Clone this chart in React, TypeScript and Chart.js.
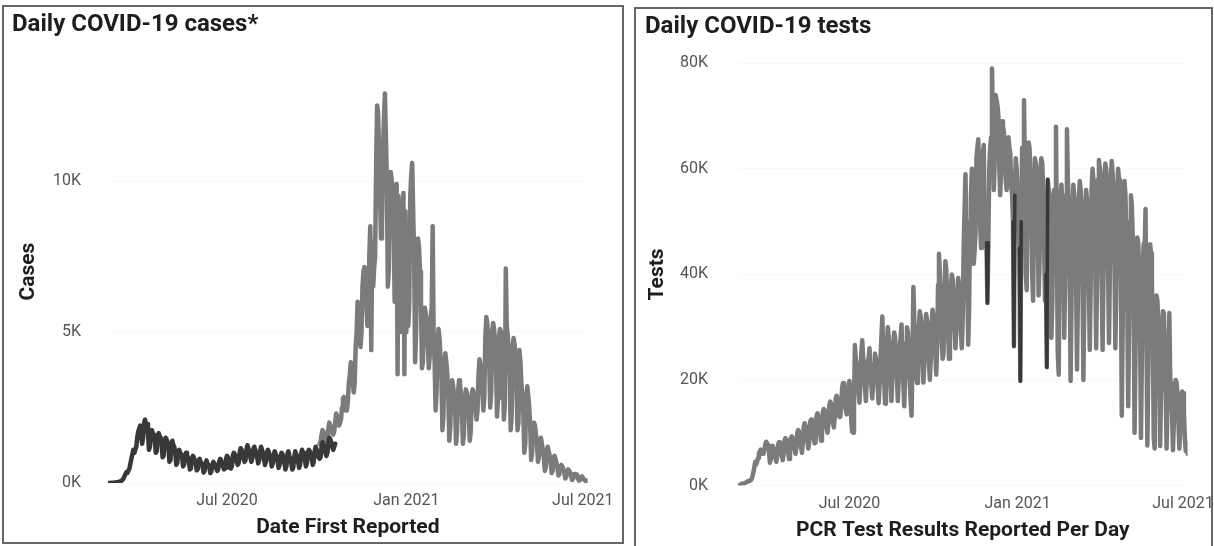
import React, { useEffect, useRef } from 'react';
import { Chart, registerables } from 'chart.js';

Chart.register(...registerables);

// ---------- data ----------
const START_DATE = '2020-03-01';
const xTickDates = ['2020-07-01', '2021-01-01', '2021-07-01'];
const xTickLabels = ['Jul 2020', 'Jan 2021', 'Jul 2021'];
const casesYTicks = [0, 5000, 10000];
const testsYTicks = [0, 20000, 40000, 60000, 80000];

// daily cases (dark series), one row per week Sun–Sat, from 2020-03-01
const casesFirstWave = [
  0, 0, 0, 5, 5, 10, 10,
  15, 20, 25, 30, 40, 50, 60,
  80, 110, 160, 230, 300, 360, 340,
  420, 480, 650, 800, 950, 1100, 1000,
  1100, 1200, 1500, 1700, 1800, 1900, 1600,
  1300, 1500, 2000, 2100, 1900, 1950, 1700,
  1100, 1200, 1700, 1750, 1650, 1600, 1400,
  1000, 1050, 1600, 1650, 1550, 1500, 1300,
  850, 900, 1400, 1500, 1450, 1350, 1150,
  700, 750, 1300, 1400, 1250, 1200, 1000,
  600, 650, 1050, 1100, 1000, 950, 850,
  550, 600, 900, 1000, 900, 850, 700,
  450, 480, 800, 900, 850, 750, 650,
  420, 450, 750, 800, 700, 650, 550,
  350, 400, 650, 750, 650, 600, 500,
  330, 380, 600, 700, 650, 600, 480,
  400, 450, 700, 800, 750, 650, 550,
  450, 500, 800, 900, 850, 700, 500,
  480, 550, 900, 1000, 950, 850, 700,
  600, 650, 1000, 1150, 1100, 950, 800,
  700, 750, 1100, 1250, 1150, 1000, 850,
  700, 800, 1100, 1200, 1100, 1000, 850,
  650, 750, 1050, 1200, 1100, 950, 800,
  600, 700, 1000, 1100, 1000, 900, 750,
  550, 650, 950, 1050, 950, 850, 700,
  500, 600, 900, 1000, 950, 800, 650,
  450, 550, 950, 1050, 900, 800, 650,
  450, 500, 850, 1050, 950, 850, 700,
  500, 600, 950, 1100, 1000, 900, 750,
  550, 650, 1000, 1100, 1050, 900, 800,
  600, 700, 1050, 1200, 1100, 1000, 850,
  800, 850, 1200, 1350, 1300, 1200, 1000,
  900, 1000, 1300, 1500, 1450, 1350, 1200,
  1100, 1200, 1300,
];

// daily cases (grey series), weekly rows from 2020-10-04
const casesSecondStart = '2020-10-04';
const casesSecondWave = [
  1300, 1350, 1600, 1750, 1700, 1550, 1450,
  1400, 1500, 1800, 2000, 1900, 1750, 1650,
  1600, 1700, 2000, 2300, 2200, 2100, 1900,
  2000, 2100, 2500, 2800, 2850, 2600, 2400,
  2400, 2700, 3300, 3600, 4000, 3800, 3400,
  3000, 3300, 4500, 5000, 6000, 5600, 4800,
  4500, 5000, 6500, 7000, 7150, 6800, 6000,
  5200, 5800, 7500, 8500, 4400, 8000, 6500,
  7150, 7500, 10500, 12500, 12300, 11000, 9500,
  8100, 8500, 11000, 12000, 12900, 11500, 10000,
  6500, 7000, 9500, 10300, 10000, 9800, 8500,
  6000, 7500, 9900, 3600, 9500, 8800, 5000,
  5500, 6500, 9600, 3600, 9000, 5000, 7000,
  5200, 6000, 9500, 10200, 10600, 9000, 7500,
  4000, 5000, 7500, 8100, 7800, 7000, 6000,
  3800, 4000, 5500, 5800, 5600, 5200, 4600,
  3800, 4200, 5500, 5800, 8500, 4800, 4000,
  2400, 3000, 4500, 5100, 4800, 4200, 3500,
  1750, 2200, 3800, 4300, 4000, 3600, 3000,
  1400, 1800, 3000, 3400, 3200, 2900, 2500,
  1300, 1700, 3000, 3400, 3300, 2900, 2400,
  1300, 1600, 2800, 3100, 3000, 2700, 2300,
  1400, 1700, 2900, 3100, 3000, 2800, 2400,
  2100, 2400, 3600, 4100, 3900, 3500, 3000,
  2400, 2900, 4800, 5500, 5300, 4800, 4000,
  2500, 3000, 5000, 5300, 5100, 4600, 3800,
  2200, 2800, 4800, 5100, 5000, 4600, 3800,
  2100, 2600, 7100, 5200, 4900, 4400, 3600,
  1750, 2200, 4500, 4800, 4600, 4200, 3200,
  1750, 2000, 4400, 4000, 3300, 2900, 2300,
  1000, 1300, 2800, 3200, 2900, 2500, 1900,
  760, 1000, 1800, 2000, 1900, 1600, 1300,
  700, 850, 1400, 1500, 1300, 1100, 900,
  400, 500, 1100, 1200, 1050, 900, 700,
  330, 400, 850, 900, 800, 650, 500,
  250, 300, 550, 600, 550, 450, 350,
  150, 200, 400, 450, 400, 350, 250,
  100, 150, 300, 300, 280, 220, 150,
  80, 100, 200, 220, 180, 120, 100,
  60, 80, 50,
];

// PCR test results reported per day, weekly rows Sun–Sat from 2020-03-01
const testsPerDay = [
  0, 0, 100, 200, 300, 400, 400,
  400, 500, 600, 700, 800, 900, 900,
  1000, 1200, 1800, 2500, 3500, 4500, 4000,
  4500, 5200, 6000, 6500, 6800, 6500, 6000,
  6000, 6800, 7800, 8300, 8000, 7600, 6500,
  4300, 5000, 7200, 7500, 7000, 6500, 5200,
  4500, 5500, 7800, 8200, 7800, 7000, 5800,
  4800, 6000, 8500, 9000, 8700, 7800, 6200,
  5000, 6500, 9000, 9300, 9000, 8200, 6800,
  6000, 7200, 10000, 10500, 10200, 9500, 7500,
  6200, 8000, 11000, 11800, 11300, 10500, 8500,
  7000, 8200, 12000, 12500, 12200, 11000, 9000,
  8000, 8200, 13000, 13700, 13200, 12000, 10000,
  8500, 10000, 14000, 14500, 14200, 13000, 11000,
  10000, 11500, 15200, 15900, 15500, 14000, 12000,
  11000, 13000, 16500, 17000, 16500, 15000, 13000,
  13000, 15000, 18500, 19400, 18800, 17000, 14500,
  13500, 16000, 19000, 19800, 18500, 12500, 10200,
  10000, 15000, 26600, 24000, 23000, 21500, 18000,
  15700, 19000, 25000, 27500, 24500, 22000, 19000,
  16000, 20000, 23500, 24000, 26000, 22500, 19000,
  16500, 20000, 23000, 25000, 24000, 22000, 18500,
  15600, 19000, 24000, 28000, 32000, 25000, 20000,
  15500, 20000, 26000, 30000, 28000, 24000, 19000,
  16000, 21000, 27000, 29000, 28000, 24500, 20000,
  16000, 20500, 26000, 28000, 30500, 24000, 19500,
  15000, 21000, 27000, 30000, 29000, 25000, 20000,
  16000, 13200, 24000, 37600, 31000, 27000, 21000,
  19400, 22000, 30000, 33000, 32000, 28000, 23000,
  19500, 23000, 30500, 32500, 31000, 28000, 24000,
  20000, 24000, 31000, 33300, 32000, 29000, 25000,
  21000, 26000, 38000, 43900, 40000, 34000, 28000,
  24000, 25000, 36000, 42500, 41000, 35000, 29000,
  24000, 28000, 37000, 40000, 39000, 35000, 30000,
  26000, 30000, 36000, 39300, 38000, 34000, 29000,
  26000, 32000, 45000, 52000, 59000, 48000, 38000,
  26700, 34000, 50000, 55000, 60000, 52000, 42000,
  44500, 48000, 62000, 64000, 65600, 58000, 50000,
  45000, 50000, 63000, 64500, 48000, 52000, 46000,
  34600, 46000, 60000, 64000, 66000, 79000, 70000,
  56000, 62000, 74000, 73000, 72000, 70000, 60000,
  55000, 60000, 69000, 68000, 67000, 64000, 58000,
  56000, 58000, 66000, 64000, 63000, 57000, 55000,
  50000, 26400, 55000, 62000, 60000, 55000, 57000,
  45000, 19800, 50000, 64000, 62000, 73000, 60000,
  40000, 37000, 63000, 65000, 64000, 60000, 52000,
  40000, 35000, 58000, 62000, 61000, 58000, 48000,
  36000, 42000, 60000, 62000, 61000, 56000, 46000,
  35000, 40000, 22400, 58000, 56000, 55000, 44000,
  28000, 35000, 52000, 56000, 55000, 68000, 45000,
  25000, 21000, 48000, 55000, 57000, 53000, 44000,
  28000, 38000, 55000, 67500, 58000, 52000, 42000,
  19800, 35000, 52000, 57000, 55000, 50000, 40000,
  22000, 36000, 54000, 57700, 56000, 50000, 40000,
  20000, 35000, 53000, 56000, 54000, 49000, 38000,
  25700, 38000, 56000, 60000, 58000, 52000, 42000,
  26000, 40000, 58000, 61700, 60000, 54000, 40000,
  25700, 40000, 59000, 61000, 60000, 55000, 42000,
  27000, 41000, 58000, 61500, 59000, 54000, 43000,
  26000, 38000, 56000, 60000, 58000, 53000, 41000,
  13200, 30000, 52000, 57700, 55000, 48000, 36000,
  15000, 30000, 50000, 55000, 53000, 47000, 35000,
  10000, 25000, 44000, 47000, 46000, 40000, 30000,
  9000, 24000, 42000, 45800, 44000, 52400, 30000,
  7600, 22000, 42000, 45700, 44000, 38000, 28000,
  9000, 7000, 34000, 36000, 35000, 30000, 22000,
  7500, 18000, 30000, 33000, 32700, 27000, 20000,
  7000, 15000, 19000, 32700, 20800, 18000, 14000,
  6700, 12000, 19000, 20000, 19500, 17000, 12000,
  7000, 11000, 17000, 17800, 17500, 14000, 9000,
  6500, 8000, 6000,
];

// low-report days drawn darker on the tests chart
const testsHighlightDates = ['2020-11-29', '2020-12-28', '2021-01-04', '2021-02-02'];

// ---------- helpers ----------
const DAY = 86400000;
const dayIndex = (d: string) => Math.round((Date.parse(d) - Date.parse(START_DATE)) / DAY);
const xTickDays = xTickDates.map(dayIndex);

const FONT = "Roboto, 'DejaVu Sans', sans-serif";
const GREY = '#7b7b7b';
const DARK = '#383838';

type PanelProps = {
  left: number; top: number; width: number; height: number;
  canvasW: number; canvasH: number;
  title: string; xTitle: string; yTitle: string;
  datasets: any[]; lastDay: number; yMax: number; yTicks: number[];
  padL: number; padR: number; yAxisW: number; xAxisH: number;
  titlePadTop: number; titlePadBottom: number;
  yTickPad: number; yTitlePad: number; xTickPad: number; xTitlePad: number;
};

function Panel(p: PanelProps) {
  const ref = useRef<HTMLCanvasElement | null>(null);
  useEffect(() => {
    if (!ref.current) return;
    const chart = new Chart(ref.current, {
      type: 'line',
      data: { datasets: p.datasets },
      options: {
        responsive: false,
        animation: false,
        devicePixelRatio: 1,
        layout: { padding: { left: p.padL, right: p.padR, top: 0, bottom: 0 } },
        elements: { point: { radius: 0 }, line: { borderWidth: 4.5, tension: 0, borderJoinStyle: 'round', borderCapStyle: 'round' } },
        plugins: {
          legend: { display: false },
          tooltip: { enabled: false },
          title: {
            display: true, text: p.title, align: 'start', color: '#1e1e1e',
            font: { family: FONT, size: 24, weight: 'bold', lineHeight: 1.2 },
            padding: { top: p.titlePadTop, bottom: p.titlePadBottom },
          },
        },
        scales: {
          x: {
            type: 'linear', min: 0, max: p.lastDay,
            grid: { display: false, drawTicks: false },
            border: { display: false },
            afterBuildTicks: (s: any) => { s.ticks = xTickDays.map((v) => ({ value: v })); },
            afterFit: (s: any) => { s.height = p.xAxisH; },
            ticks: {
              autoSkip: false, maxRotation: 0, padding: p.xTickPad, color: '#555',
              font: { family: FONT, size: 16, lineHeight: 1.2 },
              callback: (v: any) => { const i = xTickDays.indexOf(Number(v)); return i >= 0 ? xTickLabels[i] : ''; },
            },
            title: {
              display: true, text: p.xTitle, color: '#1e1e1e',
              font: { family: FONT, size: 21, weight: 'bold', lineHeight: 1.2 },
              padding: { top: 0, bottom: p.xTitlePad },
            },
          },
          y: {
            min: 0, max: p.yMax,
            grid: { color: '#f8f8f8', drawTicks: false },
            border: { display: false },
            afterBuildTicks: (s: any) => { s.ticks = p.yTicks.map((v) => ({ value: v })); },
            afterFit: (s: any) => { s.width = p.yAxisW; },
            ticks: {
              padding: p.yTickPad, color: '#555',
              font: { family: FONT, size: 16, lineHeight: 1.2 },
              callback: (v: any) => `${Number(v) / 1000}K`,
            },
            title: {
              display: true, text: p.yTitle, color: '#1e1e1e',
              font: { family: FONT, size: 21, weight: 'bold', lineHeight: 1.2 },
              padding: { top: p.yTitlePad, bottom: 0 },
            },
          },
        },
      } as any,
    });
    return () => chart.destroy();
  }, []);
  return (
    <div style={{
      position: 'absolute', left: p.left, top: p.top, width: p.width, height: p.height,
      border: '2px solid #666', boxSizing: 'border-box', background: '#fff',
    }}>
      <canvas ref={ref} width={p.canvasW} height={p.canvasH}
        style={{ position: 'absolute', left: 0, top: 0, width: p.canvasW, height: p.canvasH }} />
    </div>
  );
}

export default function App() {
  const secondStart = dayIndex(casesSecondStart);
  const casesLast = secondStart + casesSecondWave.length - 1;
  const testsLast = testsPerDay.length - 1;

  const casesDatasets = [
    {
      label: 'Cases (early)', borderColor: DARK, backgroundColor: DARK,
      data: casesFirstWave.map((v, i) => ({ x: i, y: v })),
    },
    {
      label: 'Cases', borderColor: GREY, backgroundColor: GREY,
      data: casesSecondWave.map((v, i) => ({ x: secondStart + i, y: v })),
    },
  ];

  const testsDatasets = [
    ...testsHighlightDates.map((d) => {
      const c = dayIndex(d);
      return {
        label: 'Low ' + d, borderColor: DARK, backgroundColor: DARK, borderWidth: 3.5,
        data: [c - 1, c, c + 1].map((i) => ({ x: i, y: testsPerDay[i] })),
      };
    }),
    {
      label: 'Tests', borderColor: GREY, backgroundColor: GREY,
      data: testsPerDay.map((v, i) => ({ x: i, y: v })),
    },
  ];

  return (
    <div style={{ position: 'fixed', left: 0, top: 0, width: 1214, height: 546, overflow: 'hidden', background: '#fff' }}>
      <Panel
        left={2} top={5} width={622} height={539} canvasW={618} canvasH={535}
        title="Daily COVID-19 cases*" xTitle="Date First Reported" yTitle="Cases"
        datasets={casesDatasets} lastDay={casesLast} yMax={14000} yTicks={casesYTicks}
        padL={8} padR={34.3} yAxisW={96} xAxisH={59}
        titlePadTop={3.5} titlePadBottom={20.9}
        yTickPad={27} yTitlePad={4.4} xTickPad={7.9} xTitlePad={1.4}
      />
      <Panel
        left={634} top={7} width={579} height={545} canvasW={587} canvasH={541}
        title="Daily COVID-19 tests" xTitle="PCR Test Results Reported Per Day" yTitle="Tests"
        datasets={testsDatasets} lastDay={testsLast} yMax={80000} yTicks={testsYTicks}
        padL={9} padR={34.4} yAxisW={92.9} xAxisH={64.5}
        titlePadTop={3.2} titlePadBottom={22.3}
        yTickPad={29.9} yTitlePad={0} xTickPad={8.9} xTitlePad={6.4}
      />
    </div>
  );
}
